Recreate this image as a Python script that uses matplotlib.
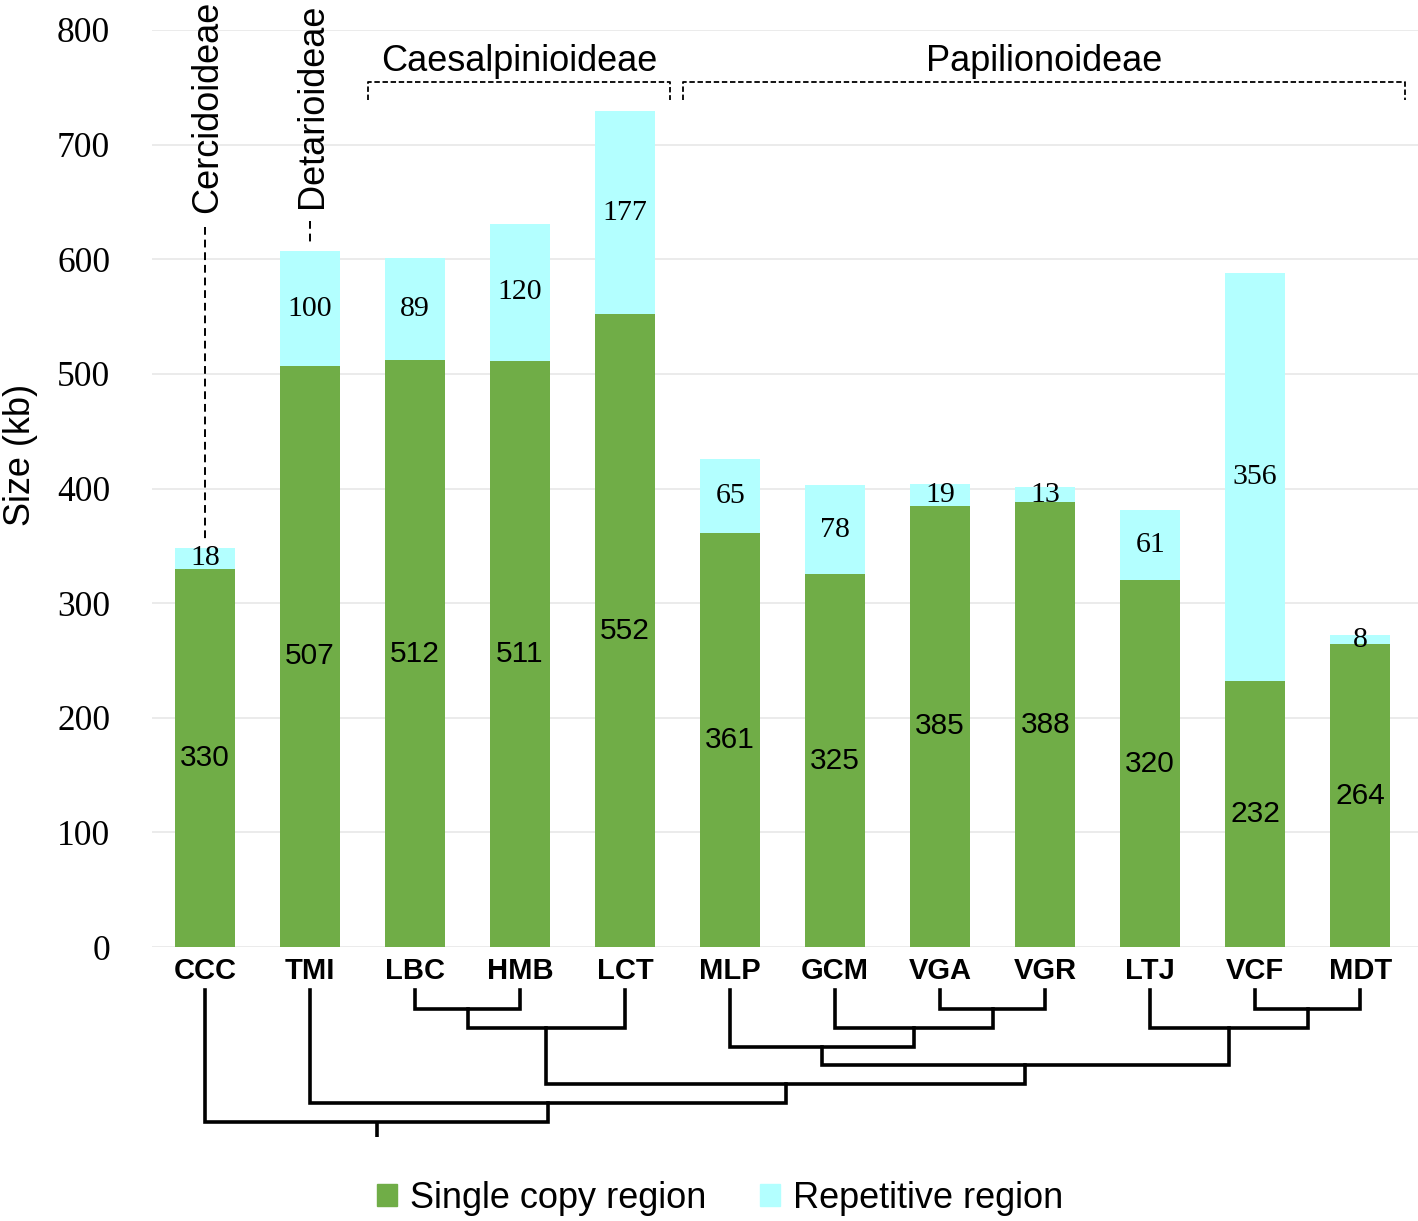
import numpy as np
import matplotlib
matplotlib.use("Agg")
import matplotlib.pyplot as plt
from matplotlib.patches import Patch

# data
species = ["CCC", "TMI", "LBC", "HMB", "LCT", "MLP", "GCM", "VGA", "VGR", "LTJ", "VCF", "MDT"]
single_copy = [330, 507, 512, 511, 552, 361, 325, 385, 388, 320, 232, 264]
repetitive = [18, 100, 89, 120, 177, 65, 78, 19, 13, 61, 356, 8]

# subfamily groups
rotated_groups = [("Cercidoideae", 0), ("Detarioideae", 1)]
bracket_groups = [("Caesalpinioideae", 2, 4), ("Papilionoideae", 5, 11)]

# tree topology (leaf indices)
caes = ((2, 3), 4)
pap = ((5, (6, (7, 8))), (9, (10, 11)))
tree = (0, (1, (caes, pap)))

GREEN = "#70AD47"
CYAN = "#B3FFFF"
SANS = "Liberation Sans"
SERIF = "Liberation Serif"

fig = plt.figure(figsize=(14.18, 12.21), dpi=100)
W, H = 1418, 1221
ax_left = 152 / W
ax_bottom = 1 - 947 / H
ax_top = 1 - 30 / H
ax = fig.add_axes([ax_left, ax_bottom, 1 - ax_left, ax_top - ax_bottom])

x = np.arange(len(species))
sc = np.array(single_copy)
rp = np.array(repetitive)
bw = 0.57
ax.bar(x, sc, width=bw, color=GREEN, zorder=2)
ax.bar(x, rp, width=bw, bottom=sc, color=CYAN, zorder=2)

for xi, s, r in zip(x, sc, rp):
    ax.text(xi, s / 2, str(s), ha="center", va="center", fontsize=21.5, family=SANS, zorder=3)
    ax.text(xi, s + r / 2, str(r), ha="center", va="center", fontsize=21.5, family=SERIF, zorder=3)

ax.set_xlim(-0.505, 11.55)
ax.set_ylim(0, 800)
ax.set_yticks(np.arange(0, 801, 100))
ax.set_yticklabels([str(v) for v in range(0, 801, 100)], fontsize=25.5, family=SERIF)
ax.set_xticks(x)
ax.set_xticklabels(species, fontsize=21, fontweight="bold", family=SANS)
ax.tick_params(axis="y", length=0, pad=30)
ax.tick_params(axis="x", length=0, pad=7)
for sp in ax.spines.values():
    sp.set_visible(False)
ax.yaxis.grid(True, color="#e8e8e8", lw=1.2, zorder=0)
ax.set_axisbelow(True)

fig.text(20 / W, 1 - 455 / H, "Size (kb)", rotation=90, ha="center", va="center",
         fontsize=26, family=SANS)

DASH = (0, (4, 2.5))

# rotated subfamily labels with dashed leaders
totals = sc + rp
for name, i in rotated_groups:
    top_val = 640 if i == 0 else 645
    ax.text(i + 0.02, top_val, name, rotation=90, ha="center", va="bottom",
            fontsize=26, family=SANS, clip_on=False)
    ax.plot([i, i], [top_val - 12, totals[i] + 7], ls=DASH, color="black", lw=1.4,
            clip_on=False, zorder=3)

# bracket subfamily labels
for name, i0, i1 in bracket_groups:
    xa, xb = i0 - 0.45, i1 + 0.43
    yb, ye = 755, 739
    ax.plot([xa, xa, xb, xb], [ye, yb, yb, ye], ls=(0, (3, 1.5)), color="black", lw=1.3,
            clip_on=False)
    ax.text((xa + xb) / 2, 757, name, ha="center", va="bottom", fontsize=26, family=SANS,
            clip_on=False)

# dendrogram below the axis
dax = fig.add_axes([ax_left, 0, 1 - ax_left, ax_bottom])
dax.set_xlim(ax.get_xlim())
px_per_level = 18.86
top_lvl = -(990 - 947) / px_per_level
bot_lvl = (1221 - 990) / px_per_level
dax.set_ylim(bot_lvl, top_lvl)
dax.axis("off")

LW = 2.6


def draw(node):
    # returns (x position, height level)
    if isinstance(node, int):
        return float(node), 0
    (xa, ha), (xb, hb) = draw(node[0]), draw(node[1])
    h = max(ha, hb) + 1
    dax.plot([xa, xa, xb, xb], [ha, h, h, hb], color="black", lw=LW,
             solid_joinstyle="miter", solid_capstyle="projecting")
    return (xa + xb) / 2, h


rx, rh = draw(tree)
dax.plot([rx, rx], [rh, rh + 0.8], color="black", lw=LW, solid_capstyle="butt")

# legend
handles = [Patch(color=GREEN), Patch(color=CYAN)]
fig.legend(handles, ["Single copy region", "Repetitive region"], loc="center",
           bbox_to_anchor=(720 / W, 1 - 1198 / H), ncol=2, frameon=False,
           prop={"family": SANS, "size": 26}, handlelength=0.55, handleheight=0.55,
           handletextpad=0.35, columnspacing=1.5)

fig.savefig("out.png", dpi=100)
